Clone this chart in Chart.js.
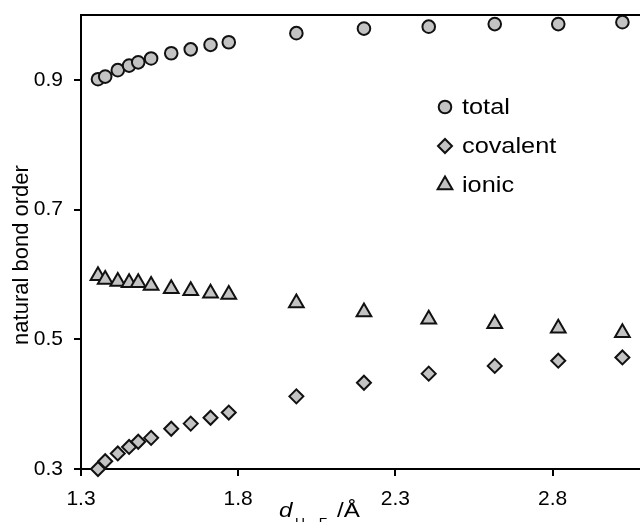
<!DOCTYPE html>
<html>
<head>
<meta charset="utf-8">
<script src="https://cdn.jsdelivr.net/npm/chart.js@4/dist/chart.umd.min.js"></script>
<style>
  html, body { margin: 0; padding: 0; background: #fff; }
</style>
</head>
<body>
<canvas id="bond-chart" width="640" height="522"></canvas>
<script>
// H...F distance (Å), same grid for all three series
var distances = [1.354, 1.377, 1.417, 1.453, 1.482, 1.523, 1.587, 1.649, 1.712, 1.770,
                 1.985, 2.200, 2.406, 2.616, 2.818, 3.022];
var totalOrder = [0.901, 0.905, 0.915, 0.922, 0.927, 0.933, 0.941, 0.947, 0.954, 0.958,
                  0.972, 0.979, 0.982, 0.986, 0.986, 0.989];
var covalentOrder = [0.300, 0.312, 0.324, 0.334, 0.342, 0.348, 0.362, 0.370, 0.379, 0.387,
                     0.412, 0.433, 0.447, 0.459, 0.467, 0.472];
var ionicOrder = [0.598, 0.592, 0.589, 0.587, 0.587, 0.583, 0.578, 0.575, 0.571, 0.569,
                  0.556, 0.542, 0.531, 0.524, 0.517, 0.510];
var seriesLabels = ["total", "covalent", "ionic"];
var xTickValues = [1.3, 1.8, 2.3, 2.8];
var yTickValues = [0.3, 0.5, 0.7, 0.9];

var FONT = "'Liberation Sans', Arial, sans-serif";
var FILL = "#c3c3c3";
var EDGE = "#111";
var STRETCH = 1.15; // the source figure is a little wider than tall

function toPoints(ys) {
  return distances.map(function (d, i) { return { x: d, y: ys[i] }; });
}

function makeSet(label, ys, style, radius) {
  return {
    label: label,
    data: toPoints(ys),
    showLine: false,
    pointStyle: style,
    pointRadius: radius,
    pointHoverRadius: radius,
    pointBorderWidth: 2,
    pointBackgroundColor: FILL,
    pointBorderColor: EDGE,
    backgroundColor: FILL,
    borderColor: EDGE,
    clip: false
  };
}

// no extra room for tick labels: plot area is fixed by layout padding
function noPadding(scale) {
  scale.paddingTop = 0;
  scale.paddingBottom = 0;
  scale.paddingLeft = 0;
  scale.paddingRight = 0;
}

function wideText(ctx, text, x, y) {
  ctx.save();
  ctx.translate(x, y);
  ctx.scale(STRETCH, 1);
  ctx.fillText(text, 0, 0);
  ctx.restore();
}

// top frame, legend and axis titles (subscript needs manual drawing)
var decorPlugin = {
  id: "decor",
  afterDraw: function (chart) {
    var ctx = chart.ctx;
    var area = chart.chartArea;
    ctx.save();

    ctx.strokeStyle = "#000";
    ctx.lineWidth = 2;
    ctx.beginPath();
    ctx.moveTo(area.left, area.top);
    ctx.lineTo(area.right, area.top);
    ctx.stroke();

    // legend
    chart.data.datasets.forEach(function (ds, i) {
      var lx = area.left + 364;
      var ly = area.top + 92 + i * 39;
      ctx.fillStyle = FILL;
      ctx.strokeStyle = EDGE;
      ctx.lineWidth = 2;
      Chart.helpers.drawPoint(ctx, {
        pointStyle: ds.pointStyle,
        radius: ds.pointRadius,
        borderWidth: 2,
        rotation: 0
      }, lx, ly);
      ctx.fillStyle = "#000";
      ctx.font = "22px " + FONT;
      ctx.textAlign = "left";
      ctx.textBaseline = "middle";
      wideText(ctx, ds.label, lx + 17, ly + 1);
    });

    // y title
    ctx.save();
    ctx.translate(22, 255);
    ctx.rotate(-Math.PI / 2);
    ctx.fillStyle = "#000";
    ctx.font = "22px " + FONT;
    ctx.textAlign = "center";
    ctx.textBaseline = "middle";
    ctx.fillText("natural bond order", 0, 0);
    ctx.restore();

    // x title: d_{H...F} /Å
    ctx.fillStyle = "#000";
    ctx.textAlign = "left";
    ctx.textBaseline = "alphabetic";
    ctx.font = "italic 21px " + FONT;
    wideText(ctx, "d", 279, 517);
    ctx.font = "12px " + FONT;
    wideText(ctx, "H\u2026F", 295, 527);
    ctx.font = "21px " + FONT;
    wideText(ctx, "/\u00c5", 337, 517);

    ctx.restore();
  }
};

new Chart(document.getElementById("bond-chart"), {
  type: "scatter",
  data: {
    datasets: [
      makeSet(seriesLabels[0], totalOrder, "circle", 6.3),
      makeSet(seriesLabels[1], covalentOrder, "rectRot", 7),
      makeSet(seriesLabels[2], ionicOrder, "triangle", 8.5)
    ]
  },
  options: {
    responsive: false,
    animation: false,
    devicePixelRatio: 1,
    layout: { autoPadding: false, padding: { top: 15, right: 0, bottom: 0, left: 0 } },
    plugins: {
      legend: { display: false },
      tooltip: { enabled: false }
    },
    scales: {
      x: {
        type: "linear",
        min: 1.3,
        max: 3.078,
        afterBuildTicks: function (scale) {
          scale.ticks = xTickValues.map(function (v) { return { value: v }; });
        },
        afterFit: function (scale) { scale.height = 53; noPadding(scale); },
        ticks: {
          color: "#000",
          font: { family: FONT, size: 21 },
          padding: 11,
          maxRotation: 0,
          autoSkip: false,
          callback: function (v) { return Number(v).toFixed(1); }
        },
        grid: { display: true, drawOnChartArea: false, drawTicks: true, tickLength: 7, color: "#000", lineWidth: 2 },
        border: { display: true, color: "#000", width: 2 }
      },
      y: {
        type: "linear",
        min: 0.3,
        max: 1.0,
        afterBuildTicks: function (scale) {
          scale.ticks = yTickValues.map(function (v) { return { value: v }; });
        },
        afterFit: function (scale) { scale.width = 81; noPadding(scale); },
        ticks: {
          color: "#000",
          font: { family: FONT, size: 21 },
          padding: 11,
          autoSkip: false,
          callback: function (v) { return Number(v).toFixed(1); }
        },
        grid: { display: true, drawOnChartArea: false, drawTicks: true, tickLength: 7, color: "#000", lineWidth: 2 },
        border: { display: true, color: "#000", width: 2 }
      }
    }
  },
  plugins: [decorPlugin]
});
</script>
</body>
</html>
